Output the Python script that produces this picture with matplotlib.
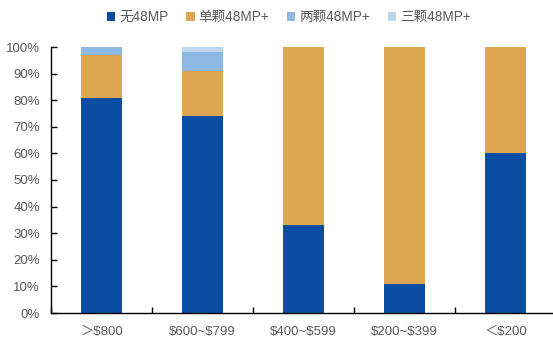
import matplotlib
matplotlib.use("Agg")
import matplotlib.pyplot as plt
import numpy as np

plt.rcParams['font.family'] = ['Liberation Sans', 'Noto Sans CJK SC', 'DejaVu Sans']
plt.rcParams['text.parse_math'] = False  # labels contain literal $ signs

# price bands and share of phones by number of 48MP cameras
categories = ['＞$800', '$600~$799', '$400~$599', '$200~$399', '＜$200']
series_names = ['无48MP', '单颗48MP+', '两颗48MP+', '三颗48MP+']
no_48mp = [0.81, 0.74, 0.33, 0.11, 0.60]
one_48mp = [0.16, 0.17, 0.67, 0.89, 0.40]
two_48mp = [0.03, 0.07, 0.0, 0.0, 0.0]
three_48mp = [0.0, 0.02, 0.0, 0.0, 0.0]

colors = ['#0B4DA2', '#DDA74F', '#8DB8E2', '#BDD7EE']
text_color = '#595959'

fig = plt.figure(figsize=(5.53, 3.4), dpi=100)
ax = fig.add_axes([51 / 553, 27 / 340, 505 / 553, 266 / 340])

x = np.arange(len(categories))
bottom = np.zeros(len(categories))
for name, vals, c in zip(series_names, [no_48mp, one_48mp, two_48mp, three_48mp], colors):
    vals = np.array(vals)
    ax.bar(x, vals, 0.4, bottom=bottom, color=c, label=name, zorder=2)
    bottom += vals

ax.set_xlim(-0.5, len(categories) - 0.5)
ax.set_ylim(0, 1)

# category boundaries get the tick marks, labels sit on minor ticks in the middle
ax.set_xticks(np.arange(len(categories) + 1) - 0.5)
ax.set_xticklabels([])
ax.set_xticks(x, minor=True)
ax.set_xticklabels(categories, minor=True)
ax.tick_params(axis='x', which='major', direction='in', length=4, width=1, color='black')
ax.tick_params(axis='x', which='minor', length=0, pad=9, labelsize=9.5, labelcolor=text_color)

ax.set_yticks(np.linspace(0, 1, 11))
ax.set_yticklabels([f'{int(round(v * 100))}%' for v in np.linspace(0, 1, 11)])
ax.tick_params(axis='y', direction='in', length=4, width=1, color='black',
               pad=8, labelsize=9.5, labelcolor=text_color)

for side in ['top', 'right']:
    ax.spines[side].set_visible(False)
for side in ['left', 'bottom']:
    ax.spines[side].set_linewidth(1.0)
    ax.spines[side].set_color('black')

fig.legend(loc='center', bbox_to_anchor=(289 / 553, 1 - 17 / 340), ncol=4,
           frameon=False, fontsize=9.8, handlelength=0.6, handleheight=0.6,
           handletextpad=0.3, columnspacing=1.3, labelcolor=text_color)

fig.savefig('out.png', dpi=100)
